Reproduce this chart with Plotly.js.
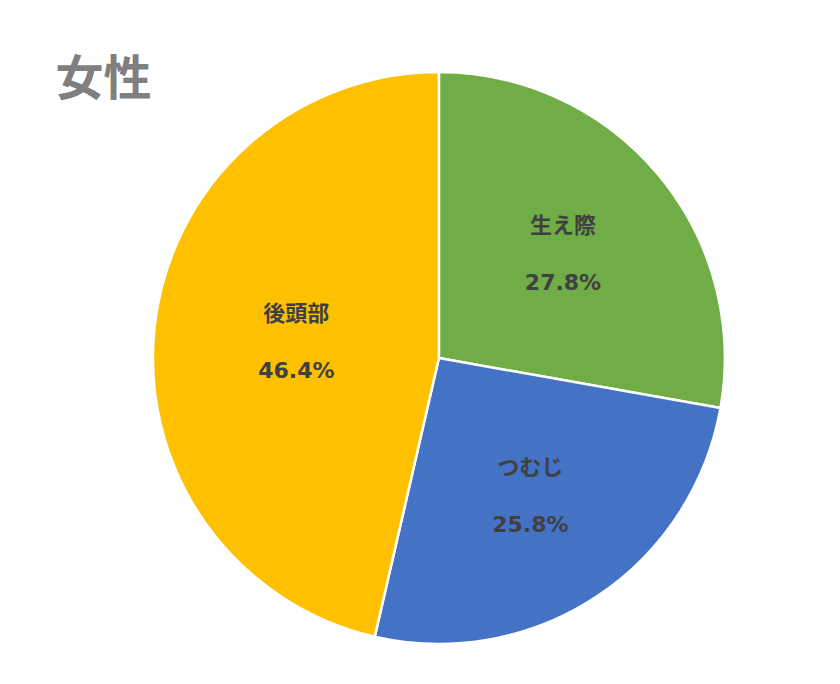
<!DOCTYPE html>
<html>
<head>
<meta charset="utf-8">
<script src="https://cdn.plot.ly/plotly-3.0.1.min.js"></script>
<style>
  html, body { margin: 0; padding: 0; background: #fff; }
  #chart { width: 840px; height: 684px; }
</style>
</head>
<body>
<div id="chart"></div>
<script>
const labels = ['生え際', 'つむじ', '後頭部'];
const shares = [27.8, 25.8, 46.4];
const sliceColors = ['#70AD47', '#4472C4', '#FFC000'];

const font = '"DejaVu Sans", "Noto Sans CJK JP", sans-serif';
const titleFont = '"Noto Sans CJK JP", sans-serif';

const data = [{
    type: 'pie',
    labels: labels,
    values: shares,
    sort: false,
    direction: 'clockwise',
    rotation: 0,
    marker: { colors: sliceColors, line: { color: '#ffffff', width: 2.5 } },
    texttemplate: '<b>%{label}</b><br><br><b>%{percent:.1%}</b>',
    textposition: 'inside',
    insidetextorientation: 'horizontal',
    insidetextfont: { family: font, size: 22, color: '#404040' },
    hoverinfo: 'label+percent',
    domain: { x: [0.182, 0.863], y: [0.0585, 0.8947] }
}];

const layout = {
    width: 840,
    height: 684,
    margin: { t: 0, b: 0, l: 0, r: 0 },
    paper_bgcolor: '#ffffff',
    showlegend: false,
    title: {
        text: '<b>女性</b>',
        font: { family: titleFont, size: 48, color: '#7f7f7f' },
        xref: 'paper', yref: 'paper',
        x: 0.066, xanchor: 'left',
        y: 0.886, yanchor: 'middle'
    }
};

Plotly.newPlot('chart', data, layout, { displayModeBar: false });
</script>
</body>
</html>
